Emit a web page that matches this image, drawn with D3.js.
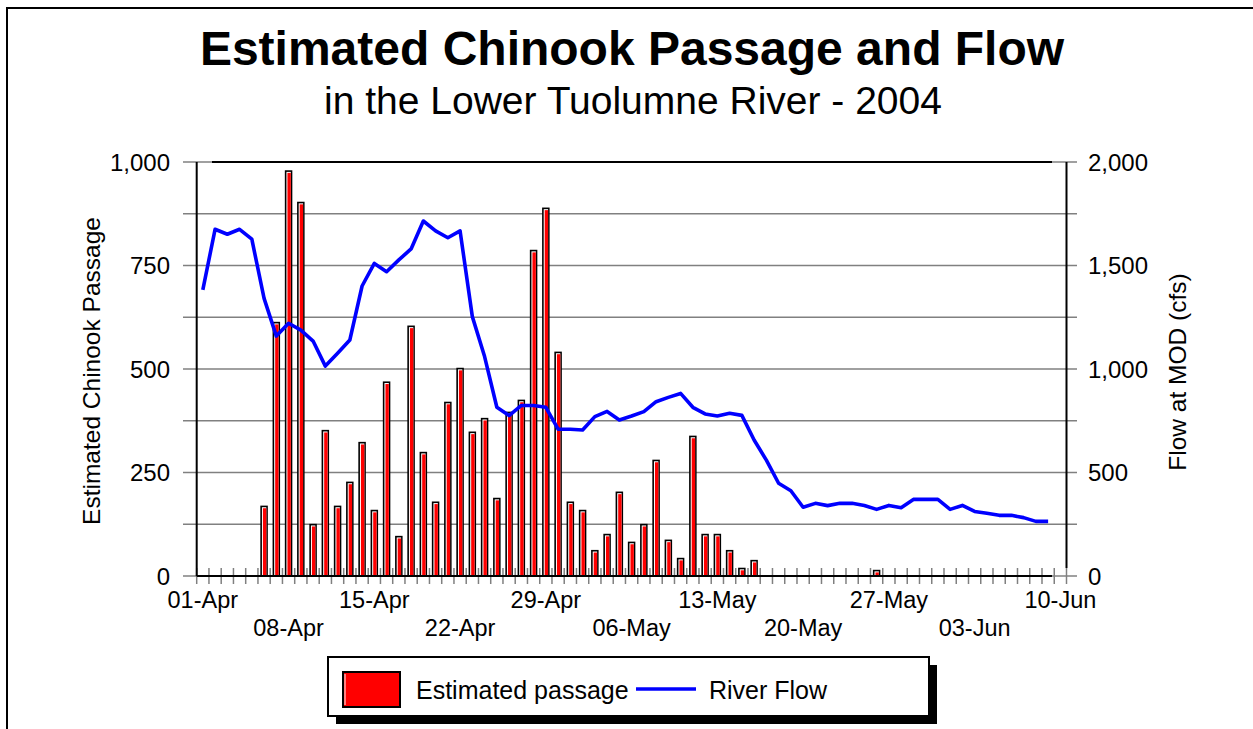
<!DOCTYPE html>
<html>
<head>
<meta charset="utf-8">
<script src="https://cdn.jsdelivr.net/npm/d3@7"></script>
<style>
  body { margin: 0; background: #fff; }
  svg { display: block; font-family: "Liberation Sans", Arial, sans-serif; }
</style>
</head>
<body>
<script>
(function(){
//chart data
var startDay = new Date(2004, 3, 1),   //01-Apr-2004
    endDay = new Date(2004, 5, 11);    //day after 10-Jun
var days = d3.timeDay.range(startDay, endDay); //71 daily categories

//estimated chinook passage per day (01-Apr .. 10-Jun)
var passage = [0, 0, 0, 0, 0, 170, 614, 980, 904, 126,
    353, 170, 228, 324, 160, 470, 97, 605, 300, 180,
    421, 503, 349, 382, 189, 397, 426, 788, 890, 542,
    180, 160, 63, 102, 204, 83, 126, 281, 88, 44,
    339, 102, 102, 63, 20, 39, 0, 0, 0, 0,
    0, 0, 0, 0, 0, 15, 0, 0, 0, 0,
    0, 0, 0, 0, 0, 0, 0, 0, 0, 0, 0];

//river flow at MOD (cfs), 01-Apr .. 09-Jun
var flow = [1382, 1675, 1651, 1675, 1627, 1341, 1159, 1221, 1188, 1135,
    1014, 1076, 1140, 1401, 1510, 1470, 1527, 1580, 1715, 1667,
    1634, 1667, 1253, 1060, 815, 775, 824, 824, 815, 709,
    709, 705, 770, 795, 754, 773, 794, 842, 863, 882,
    815, 783, 773, 786, 776, 657, 560, 448, 412, 332,
    351, 340, 351, 351, 341, 322, 341, 330, 370, 370,
    370, 322, 341, 312, 303, 293, 293, 282, 264, 264];

var gridValues = [0, 125, 250, 375, 500, 625, 750, 875, 1000];
var leftTicks = [0, 250, 500, 750, 1000];
var rightTicks = [0, 500, 1000, 1500, 2000];
var dateLabels = ["01-Apr", "08-Apr", "15-Apr", "22-Apr", "29-Apr", "06-May",
    "13-May", "20-May", "27-May", "03-Jun", "10-Jun"];

var fmtDay = d3.timeFormat("%d-%b");

//frame
var width = 1253, height = 729;
var svg = d3.select("body").append("svg")
    .attr("width", width)
    .attr("height", height);

svg.append("rect")
    .attr("x", 7).attr("y", 8)
    .attr("width", 1270).attr("height", 800)
    .attr("fill", "#fff")
    .attr("stroke", "#000")
    .attr("stroke-width", 2);

//scales
var x = d3.scaleBand()
    .domain(days.map(fmtDay))
    .range([196.7, 1066.5])
    .paddingInner(0).paddingOuter(0);

var y = d3.scaleLinear().domain([0, 1000]).range([576, 162]);
var yFlow = d3.scaleLinear().domain([0, 2000]).range([576, 162]);

var left = 196.7, right = 1066.5;

//titles
svg.append("text")
    .attr("x", 632).attr("y", 65)
    .attr("text-anchor", "middle")
    .style("font-size", "48px").style("font-weight", "bold")
    .text("Estimated Chinook Passage and Flow");

svg.append("text")
    .attr("x", 633).attr("y", 114)
    .attr("text-anchor", "middle")
    .style("font-size", "39px")
    .text("in the Lower Tuolumne River - 2004");

//gridlines with ticks crossing both axes
svg.append("g").selectAll("line")
    .data(gridValues)
    .enter().append("line")
    .attr("x1", 183).attr("x2", 1077)
    .attr("y1", function(d){ return y(d); })
    .attr("y2", function(d){ return y(d); })
    .attr("stroke", "#808080")
    .attr("stroke-width", 1.5);

//black top border of plot
svg.append("line")
    .attr("x1", 212).attr("x2", 1052)
    .attr("y1", y(1000)).attr("y2", y(1000))
    .attr("stroke", "#000").attr("stroke-width", 2);

//x tick marks at category edges
var edges = days.map(function(d){ return x(fmtDay(d)); });
edges.push(right);
svg.append("g").selectAll("line")
    .data(edges)
    .enter().append("line")
    .attr("x1", function(d){ return d; })
    .attr("x2", function(d){ return d; })
    .attr("y1", 568).attr("y2", 584)
    .attr("stroke", "#808080")
    .attr("stroke-width", 1.5);

//bars: black outline, white highlight on left/top, red body
var bw = 7.5;
var barData = days.map(function(d, i){ return {key: fmtDay(d), v: passage[i]}; })
    .filter(function(d){ return d.v > 0; });

var bars = svg.append("g").selectAll("g")
    .data(barData)
    .enter().append("g")
    .attr("transform", function(d){
        return "translate(" + (x(d.key) + x.bandwidth() / 2 - bw / 2) + ",0)";
    });

bars.append("rect")
    .attr("x", 0).attr("width", bw)
    .attr("y", function(d){ return y(d.v); })
    .attr("height", function(d){ return y(0) - y(d.v); })
    .attr("fill", "#000");

bars.append("rect")
    .attr("x", 1.6).attr("width", bw - 3.1)
    .attr("y", function(d){ return y(d.v) + 1.6; })
    .attr("height", function(d){ return Math.max(0, y(0) - y(d.v) - 1.6); })
    .attr("fill", "#fff");

bars.append("rect")
    .attr("x", 2.6).attr("width", bw - 4.1)
    .attr("y", function(d){ return y(d.v) + 2.6; })
    .attr("height", function(d){ return Math.max(0, y(0) - y(d.v) - 2.6); })
    .attr("fill", "#ff0000");

//axes lines
svg.append("line")
    .attr("x1", left).attr("x2", 1052)
    .attr("y1", 576).attr("y2", 576)
    .attr("stroke", "#000").attr("stroke-width", 2);

svg.append("line")
    .attr("x1", left).attr("x2", left)
    .attr("y1", 162).attr("y2", 576)
    .attr("stroke", "#000").attr("stroke-width", 2);

svg.append("line")
    .attr("x1", right).attr("x2", right)
    .attr("y1", 162).attr("y2", 568)
    .attr("stroke", "#000").attr("stroke-width", 2);

//flow line
var line = d3.line()
    .x(function(d, i){ return x(fmtDay(days[i])) + x.bandwidth() / 2; })
    .y(function(d){ return yFlow(d); });

svg.append("path")
    .datum(flow)
    .attr("d", line)
    .attr("fill", "none")
    .attr("stroke", "#0000ff")
    .attr("stroke-width", 3.6)
    .attr("stroke-linejoin", "round");

//left axis labels
svg.append("g").selectAll("text")
    .data(leftTicks)
    .enter().append("text")
    .attr("x", 170)
    .attr("y", function(d){ return y(d); })
    .attr("dy", "0.36em")
    .attr("text-anchor", "end")
    .style("font-size", "24px")
    .text(d3.format(","));

//right axis labels
svg.append("g").selectAll("text")
    .data(rightTicks)
    .enter().append("text")
    .attr("x", 1088)
    .attr("y", function(d){ return yFlow(d); })
    .attr("dy", "0.36em")
    .style("font-size", "24px")
    .text(d3.format(","));

//date labels, alternating rows
svg.append("g").selectAll("text")
    .data(dateLabels)
    .enter().append("text")
    .attr("x", function(d){ return x(d) + x.bandwidth() / 2; })
    .attr("y", function(d, i){ return i % 2 == 0 ? 608 : 636; })
    .attr("text-anchor", "middle")
    .style("font-size", "23.5px")
    .text(function(d){ return d; });

//axis titles
svg.append("text")
    .attr("transform", "translate(100,371) rotate(-90)")
    .attr("text-anchor", "middle")
    .style("font-size", "24.5px")
    .text("Estimated Chinook Passage");

svg.append("text")
    .attr("transform", "translate(1186,372) rotate(-90)")
    .attr("text-anchor", "middle")
    .style("font-size", "24.5px")
    .text("Flow at MOD (cfs)");

//legend with drop shadow
var legend = svg.append("g");
legend.append("rect")
    .attr("x", 336).attr("y", 665)
    .attr("width", 601).attr("height", 59)
    .attr("fill", "#000");
legend.append("rect")
    .attr("x", 328).attr("y", 657)
    .attr("width", 601).attr("height", 59)
    .attr("fill", "#fff")
    .attr("stroke", "#000").attr("stroke-width", 2);
legend.append("rect")
    .attr("x", 343).attr("y", 672)
    .attr("width", 57).attr("height", 35)
    .attr("fill", "#ff0000")
    .attr("stroke", "#000").attr("stroke-width", 2);
legend.append("line")
    .attr("x1", 345).attr("x2", 345)
    .attr("y1", 674).attr("y2", 705)
    .attr("stroke", "#fff").attr("stroke-width", 1);
legend.append("text")
    .attr("x", 416).attr("y", 699)
    .style("font-size", "25px")
    .text("Estimated passage");
legend.append("line")
    .attr("x1", 636).attr("x2", 696)
    .attr("y1", 689).attr("y2", 689)
    .attr("stroke", "#0000ff").attr("stroke-width", 3.5);
legend.append("text")
    .attr("x", 709).attr("y", 699)
    .style("font-size", "25px")
    .text("River Flow");
})();
</script>
</body>
</html>
